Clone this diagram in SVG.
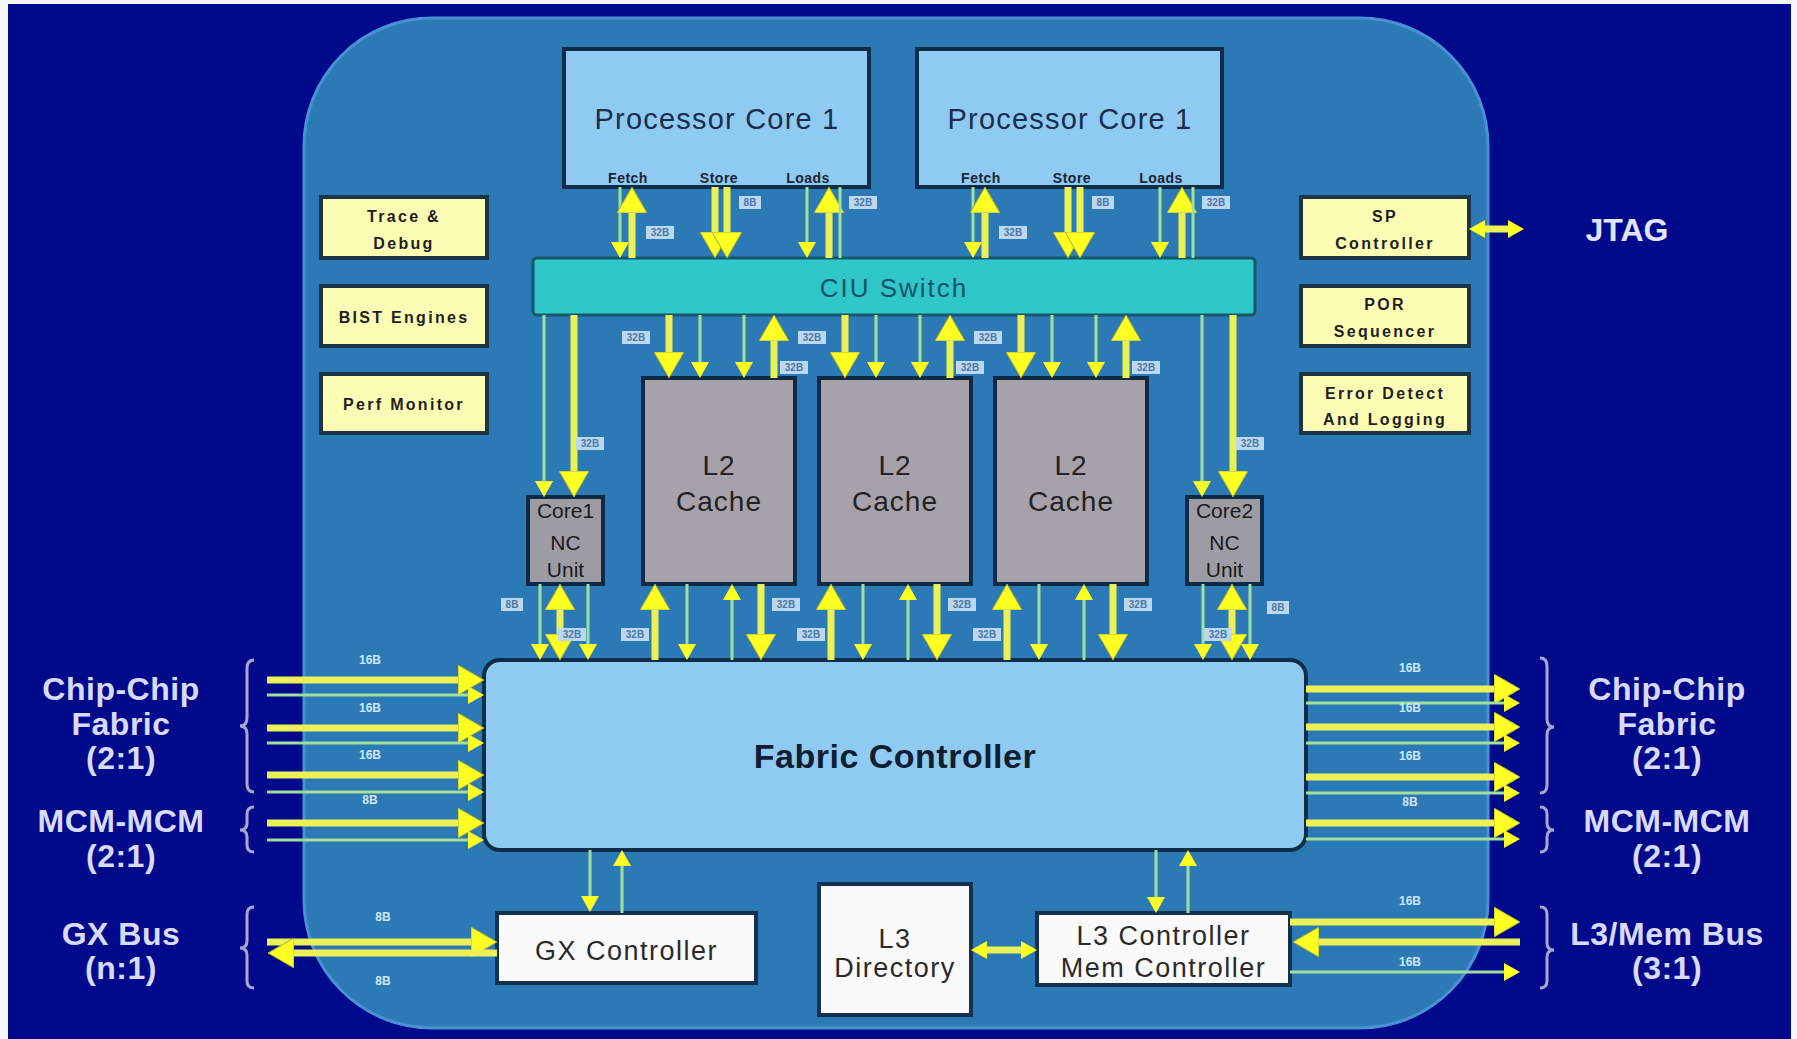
<svg xmlns="http://www.w3.org/2000/svg" width="1797" height="1039" viewBox="0 0 1797 1039">
<style>
text{font-family:"Liberation Sans",Arial,sans-serif}
.core{fill:#8fcaf2;stroke:#0f2c48;stroke-width:4}
.ciu{fill:#2fc7c9;stroke:#17566a;stroke-width:3}
.yb{fill:#fcfcb4;stroke:#1d3446;stroke-width:4}
.l2{fill:#a6a2ab;stroke:#0f2a44;stroke-width:4}
.nc{fill:#9d9ca5;stroke:#0f2a44;stroke-width:4}
.fab{fill:#8ecaf2;stroke:#0f2c48;stroke-width:4}
.wb{fill:#fafafa;stroke:#143250;stroke-width:4}
.tk{stroke:#ecf256;stroke-width:7;fill:none}
.tn{stroke:#9fe09b;stroke-width:3;fill:none}
.hb{marker-end:url(#hb)}
.hs{marker-end:url(#hs)}
.hb2{marker-start:url(#hb);marker-end:url(#hb)}
.hs2{marker-start:url(#hs);marker-end:url(#hs)}
.lb rect{fill:#bcd8f0}
.lb text{font-size:10px;font-weight:bold;fill:#4a78a8;text-anchor:middle}
.ol{font-size:12px;font-weight:bold;fill:#cfe6fa;text-anchor:middle}
.side{font-size:32px;font-weight:bold;letter-spacing:0.5px;fill:#dadaff;text-anchor:middle}
.brace{fill:none;stroke:#a8a6d0;stroke-width:3}
.pc{font-size:29px;letter-spacing:1.2px;fill:#1b2d4d;text-anchor:middle}
.sub{font-size:14px;font-weight:bold;letter-spacing:0.5px;fill:#1a2433;text-anchor:middle}
.yt{font-size:16px;font-weight:bold;letter-spacing:2.3px;fill:#1e1e1e;text-anchor:middle}
.l2t{font-size:28px;letter-spacing:1px;fill:#222;text-anchor:middle}
.nct{font-size:21px;fill:#1a1a1a;text-anchor:middle}
.wt{font-size:27px;letter-spacing:1.5px;fill:#2a2a2a;text-anchor:middle}
</style>
<defs>
<marker id="hb" viewBox="0 0 26 30" refX="10" refY="15" markerWidth="26" markerHeight="30" markerUnits="userSpaceOnUse" orient="auto-start-reverse"><path d="M0,0 L26,15 L0,30 Z" fill="#ffff22" stroke="#a8b030" stroke-width="1"/></marker>
<marker id="hs" viewBox="0 0 16 18" refX="6" refY="9" markerWidth="16" markerHeight="18" markerUnits="userSpaceOnUse" orient="auto-start-reverse"><path d="M0,0 L16,9 L0,18 Z" fill="#ffff22"/></marker>
</defs>

<rect x="0" y="0" width="1797" height="1039" fill="#f6f6fa"/>
<rect x="8" y="4" width="1783" height="1035" fill="#020a8c"/>
<rect id="chip" x="304" y="18" width="1184" height="1010" rx="128" ry="128" fill="#2b7ab5" stroke="#4a90d4" stroke-width="3"/>

<g id="core1"><rect class="core" x="564" y="49" width="305" height="138"/>
<text class="pc" x="717" y="129">Processor Core 1</text>
<text class="sub" x="628" y="183">Fetch</text><text class="sub" x="719" y="183">Store</text><text class="sub" x="808" y="183">Loads</text></g>
<g id="core2"><rect class="core" x="917" y="49" width="305" height="138"/>
<text class="pc" x="1070" y="129">Processor Core 1</text>
<text class="sub" x="981" y="183">Fetch</text><text class="sub" x="1072" y="183">Store</text><text class="sub" x="1161" y="183">Loads</text></g>

<g id="ciu"><rect class="ciu" x="533" y="258" width="722" height="57" rx="4"/>
<text x="894" y="297" font-size="26" letter-spacing="2" fill="#0e5466" text-anchor="middle">CIU Switch</text></g>

<g id="trace"><rect class="yb" x="321" y="197" width="166" height="61"/><text class="yt" x="404" y="222">Trace &amp;</text><text class="yt" x="404" y="249">Debug</text></g>
<g id="bist"><rect class="yb" x="321" y="286" width="166" height="60"/><text class="yt" x="404" y="323">BIST Engines</text></g>
<g id="perf"><rect class="yb" x="321" y="374" width="166" height="59"/><text class="yt" x="404" y="410">Perf Monitor</text></g>
<g id="sp"><rect class="yb" x="1301" y="197" width="168" height="61"/><text class="yt" x="1385" y="222">SP</text><text class="yt" x="1385" y="249">Controller</text></g>
<g id="por"><rect class="yb" x="1301" y="286" width="168" height="60"/><text class="yt" x="1385" y="310">POR</text><text class="yt" x="1385" y="337">Sequencer</text></g>
<g id="err"><rect class="yb" x="1301" y="374" width="168" height="59"/><text class="yt" x="1385" y="399">Error Detect</text><text class="yt" x="1385" y="425">And Logging</text></g>
<g id="jtag"><text x="1627" y="241" font-size="32" font-weight="bold" fill="#e4e4ff" text-anchor="middle">JTAG</text></g>

<g id="l2a"><rect class="l2" x="643" y="378" width="152" height="206"/><text class="l2t" x="719" y="475">L2</text><text class="l2t" x="719" y="511">Cache</text></g>
<g id="l2b"><rect class="l2" x="819" y="378" width="152" height="206"/><text class="l2t" x="895" y="475">L2</text><text class="l2t" x="895" y="511">Cache</text></g>
<g id="l2c"><rect class="l2" x="995" y="378" width="152" height="206"/><text class="l2t" x="1071" y="475">L2</text><text class="l2t" x="1071" y="511">Cache</text></g>
<g id="nc1"><rect class="nc" x="528" y="497" width="75" height="87"/><text class="nct" x="565.5" y="518">Core1</text><text class="nct" x="565.5" y="550">NC</text><text class="nct" x="565.5" y="577">Unit</text></g>
<g id="nc2"><rect class="nc" x="1187" y="497" width="75" height="87"/><text class="nct" x="1224.5" y="518">Core2</text><text class="nct" x="1224.5" y="550">NC</text><text class="nct" x="1224.5" y="577">Unit</text></g>

<g id="fabric"><rect class="fab" x="484" y="660" width="822" height="190" rx="16"/>
<text x="895" y="768" font-size="34" font-weight="bold" letter-spacing="0.5" fill="#0f1e33" text-anchor="middle">Fabric Controller</text></g>

<g id="gx"><rect class="wb" x="497" y="913" width="259" height="70"/><text class="wt" x="626.5" y="960">GX Controller</text></g>
<g id="l3dir"><rect class="wb" x="819" y="884" width="152" height="131"/><text class="wt" x="895" y="948">L3</text><text class="wt" x="895" y="977">Directory</text></g>
<g id="l3ctl"><rect class="wb" x="1037" y="913" width="253" height="72"/><text class="wt" x="1163.5" y="945">L3 Controller</text><text class="wt" x="1163.5" y="977">Mem Controller</text></g>

<g id="labels-left">
<text class="side" x="121" y="700">Chip-Chip</text><text class="side" x="121" y="735">Fabric</text><text class="side" x="121" y="769">(2:1)</text>
<text class="side" x="121" y="832">MCM-MCM</text><text class="side" x="121" y="867">(2:1)</text>
<text class="side" x="121" y="945">GX Bus</text><text class="side" x="121" y="979">(n:1)</text>
</g>
<g id="labels-right">
<text class="side" x="1667" y="700">Chip-Chip</text><text class="side" x="1667" y="735">Fabric</text><text class="side" x="1667" y="769">(2:1)</text>
<text class="side" x="1667" y="832">MCM-MCM</text><text class="side" x="1667" y="867">(2:1)</text>
<text class="side" x="1667" y="945">L3/Mem Bus</text><text class="side" x="1667" y="979">(3:1)</text>
</g>
<g id="braces">
<path class="brace" stroke="#c0a0d8" d="M254,660 Q247,660 247,668 V718 Q247,726 240,726 Q247,726 247,734 V784 Q247,792 254,792"/>
<path class="brace" d="M254,807 Q247,807 247,814 V823 Q247,830 240,830 Q247,830 247,837 V845 Q247,852 254,852"/>
<path class="brace" d="M254,907 Q247,907 247,914 V941 Q247,948 240,948 Q247,948 247,955 V981 Q247,988 254,988"/>
<path class="brace" d="M1540,658 Q1547,658 1547,666 V719 Q1547,727 1554,727 Q1547,727 1547,735 V785 Q1547,793 1540,793"/>
<path class="brace" d="M1540,807 Q1547,807 1547,814 V823 Q1547,830 1554,830 Q1547,830 1547,837 V845 Q1547,852 1540,852"/>
<path class="brace" d="M1540,907 Q1547,907 1547,914 V943 Q1547,950 1554,950 Q1547,950 1547,957 V981 Q1547,988 1540,988"/>
</g>

<g id="connectors">
<path class="tn hs" d="M620,187 V248"/><path class="tk hb" d="M632,258 V203"/>
<path class="tk hb" d="M715,187 V242"/><path class="tk hb" d="M727,187 V242"/>
<path class="tn hs" d="M807,187 V248"/><path class="tk hb" d="M829,258 V203"/><path class="tn" d="M840,187 V258"/>
<path class="tn hs" d="M973,187 V248"/><path class="tk hb" d="M985,258 V203"/>
<path class="tk hb" d="M1068,187 V242"/><path class="tk hb" d="M1080,187 V242"/>
<path class="tn hs" d="M1160,187 V248"/><path class="tk hb" d="M1182,258 V203"/><path class="tn" d="M1193,187 V258"/>
<path class="tk hb" d="M669,315 V362"/><path class="tn hs" d="M700,315 V368"/><path class="tn hs" d="M744,315 V368"/><path class="tk hb" d="M774,378 V331"/>
<path class="tk hb" d="M845,315 V362"/><path class="tn hs" d="M876,315 V368"/><path class="tn hs" d="M920,315 V368"/><path class="tk hb" d="M950,378 V331"/>
<path class="tk hb" d="M1021,315 V362"/><path class="tn hs" d="M1052,315 V368"/><path class="tn hs" d="M1096,315 V368"/><path class="tk hb" d="M1126,378 V331"/>
<path class="tn hs" d="M544,315 V487"/><path class="tk hb" d="M574,315 V481"/>
<path class="tn hs" d="M1202,315 V487"/><path class="tk hb" d="M1233,315 V481"/>
<path class="tk hb" d="M655,660 V600"/><path class="tn hs" d="M687,584 V650"/><path class="tn hs" d="M732,660 V594"/><path class="tk hb" d="M761,584 V644"/>
<path class="tk hb" d="M831,660 V600"/><path class="tn hs" d="M863,584 V650"/><path class="tn hs" d="M908,660 V594"/><path class="tk hb" d="M937,584 V644"/>
<path class="tk hb" d="M1007,660 V600"/><path class="tn hs" d="M1039,584 V650"/><path class="tn hs" d="M1084,660 V594"/><path class="tk hb" d="M1113,584 V644"/>
<path class="tn hs" d="M540,584 V650"/><path class="tk hb2" d="M560,600 V644"/><path class="tn hs" d="M588,584 V650"/>
<path class="tn hs" d="M1203,584 V650"/><path class="tk hb2" d="M1232,600 V644"/><path class="tn hs" d="M1250,584 V650"/>
<path class="tn hs" d="M590,850 V902"/><path class="tn hs" d="M622,913 V860"/>
<path class="tn hs" d="M1156,850 V903"/><path class="tn hs" d="M1188,913 V860"/>
<path class="tk hs2" d="M981,950 H1027"/>
<path class="tk hs2" d="M1479,229 H1514"/>
<path class="tk hb" d="M267,680 H468"/><path class="tn hs" d="M267,695 H474"/>
<path class="tk hb" d="M267,728 H468"/><path class="tn hs" d="M267,743 H474"/>
<path class="tk hb" d="M267,775 H468"/><path class="tn hs" d="M267,792 H474"/>
<path class="tk hb" d="M267,823 H468"/><path class="tn hs" d="M267,840 H474"/>
<path class="tk hb" d="M267,942 H481"/><path class="tk hb" d="M497,953 H284"/>
<path class="tk hb" d="M1306,689 H1504"/><path class="tn hs" d="M1306,703 H1510"/>
<path class="tk hb" d="M1306,727 H1504"/><path class="tn hs" d="M1306,743 H1510"/>
<path class="tk hb" d="M1306,777 H1504"/><path class="tn hs" d="M1306,793 H1510"/>
<path class="tk hb" d="M1306,823 H1504"/><path class="tn hs" d="M1306,839 H1510"/>
<path class="tk hb" d="M1290,922 H1504"/><path class="tk hb" d="M1520,942 H1309"/><path class="tn hs" d="M1290,972 H1510"/>

<g class="lb">
<rect x="646" y="226" width="28" height="13"/><text x="660" y="236">32B</text>
<rect x="739" y="196" width="22" height="13"/><text x="750" y="206">8B</text>
<rect x="849" y="196" width="28" height="13"/><text x="863" y="206">32B</text>
<rect x="999" y="226" width="28" height="13"/><text x="1013" y="236">32B</text>
<rect x="1092" y="196" width="22" height="13"/><text x="1103" y="206">8B</text>
<rect x="1202" y="196" width="28" height="13"/><text x="1216" y="206">32B</text>
<rect x="622" y="331" width="28" height="13"/><text x="636" y="341">32B</text>
<rect x="780" y="361" width="28" height="13"/><text x="794" y="371">32B</text>
<rect x="798" y="331" width="28" height="13"/><text x="812" y="341">32B</text>
<rect x="956" y="361" width="28" height="13"/><text x="970" y="371">32B</text>
<rect x="974" y="331" width="28" height="13"/><text x="988" y="341">32B</text>
<rect x="1132" y="361" width="28" height="13"/><text x="1146" y="371">32B</text>
<rect x="576" y="437" width="28" height="13"/><text x="590" y="447">32B</text>
<rect x="1236" y="437" width="28" height="13"/><text x="1250" y="447">32B</text>
<rect x="501" y="598" width="22" height="13"/><text x="512" y="608">8B</text>
<rect x="558" y="628" width="28" height="13"/><text x="572" y="638">32B</text>
<rect x="621" y="628" width="28" height="13"/><text x="635" y="638">32B</text>
<rect x="772" y="598" width="28" height="13"/><text x="786" y="608">32B</text>
<rect x="797" y="628" width="28" height="13"/><text x="811" y="638">32B</text>
<rect x="948" y="598" width="28" height="13"/><text x="962" y="608">32B</text>
<rect x="973" y="628" width="28" height="13"/><text x="987" y="638">32B</text>
<rect x="1124" y="598" width="28" height="13"/><text x="1138" y="608">32B</text>
<rect x="1204" y="628" width="28" height="13"/><text x="1218" y="638">32B</text>
<rect x="1267" y="601" width="22" height="13"/><text x="1278" y="611">8B</text>
</g>
<text class="ol" x="370" y="664">16B</text><text class="ol" x="370" y="712">16B</text><text class="ol" x="370" y="759">16B</text><text class="ol" x="370" y="804">8B</text>
<text class="ol" x="383" y="921">8B</text><text class="ol" x="383" y="985">8B</text>
<text class="ol" x="1410" y="672">16B</text><text class="ol" x="1410" y="712">16B</text><text class="ol" x="1410" y="760">16B</text><text class="ol" x="1410" y="806">8B</text>
<text class="ol" x="1410" y="905">16B</text><text class="ol" x="1410" y="966">16B</text>
</g>
</svg>
